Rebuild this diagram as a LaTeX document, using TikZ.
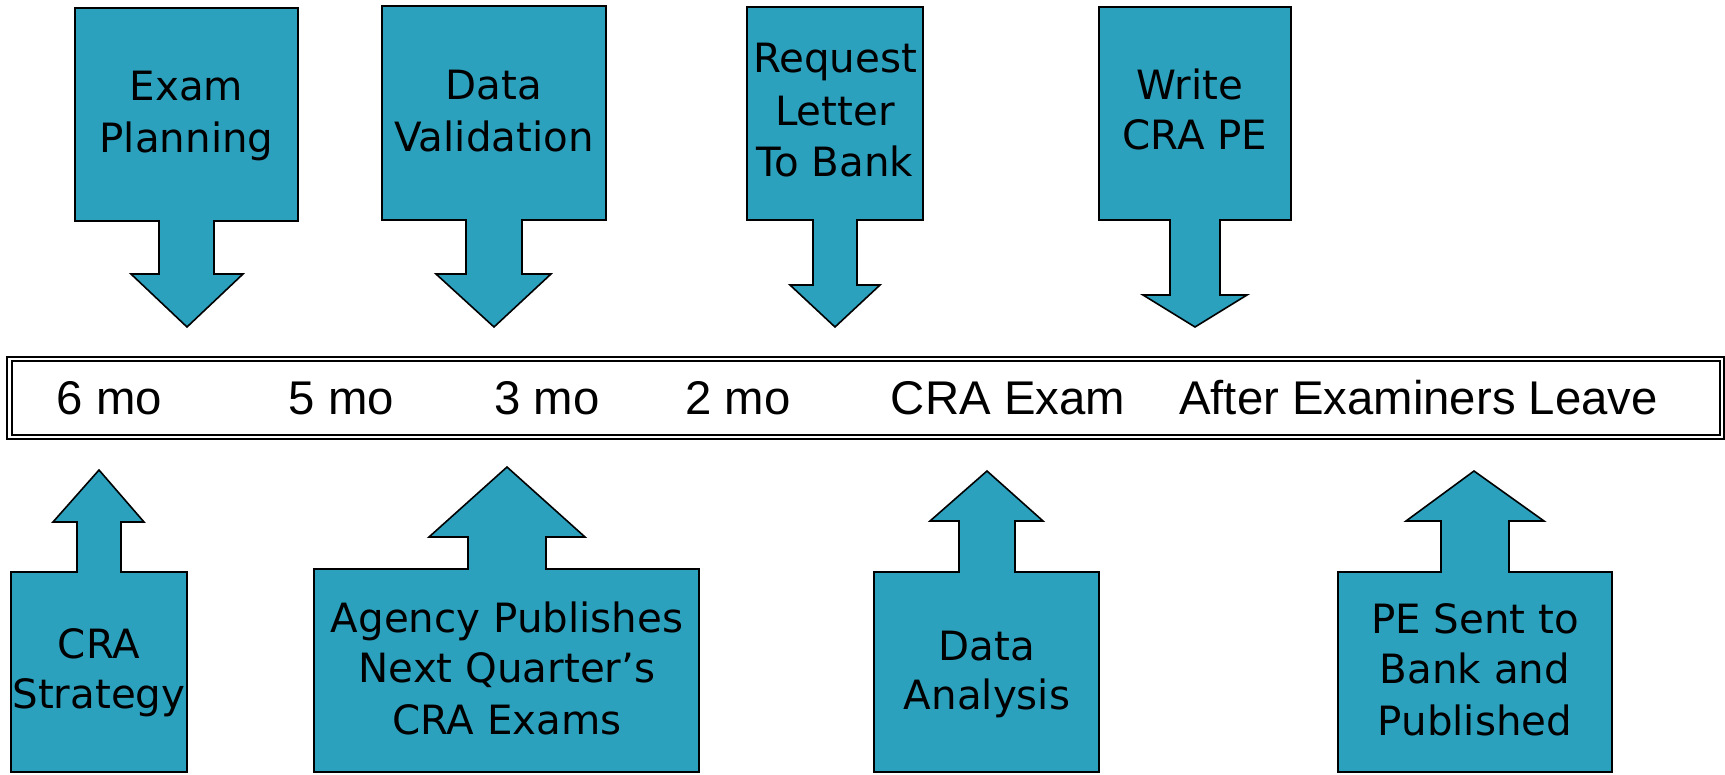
\documentclass[tikz,border=0pt]{standalone}
\usepackage{fontspec}
\setmainfont{DejaVu Sans}
\newfontfamily\tlfont{Liberation Sans}
\definecolor{tealbox}{RGB}{44,161,190}
\tikzset{
  callout/.style={draw=black, fill=tealbox, line width=1.6bp, line join=miter},
  boxtxt/.style={anchor=base, inner sep=0pt, font=\fontsize{40.5}{51}\selectfont},
  tltxt/.style={anchor=base, inner sep=0pt, font=\tlfont\fontsize{47.5}{56}\selectfont},
  tlbar/.style={draw=black, double=white, line width=2bp, double distance=2.4bp, rectangle, inner sep=0pt}
}
\begin{document}
\begin{tikzpicture}[x=1bp, y=-1bp]
\useasboundingbox (0,0) rectangle (1725,775);

% timeline bar
\node[tlbar, minimum width=1712.5bp, minimum height=78bp] (bar) at (865.75,397.75) {};
\node[tltxt] (t6)  at (109.5,414.5) {6 mo};
\node[tltxt] (t5)  at (341.5,414.5) {5 mo};
\node[tltxt] (t3)  at (547,414.5) {3 mo};
\node[tltxt] (t2)  at (738,414.5) {2 mo};
\node[tltxt] (tcra) at (1008,414.5) {CRA Exam};
\node[tltxt] (tafter) at (1418.5,414.5) {After Examiners Leave};

% top callouts (pointing down)
\draw[callout] (75,8) -- (298,8) -- (298,221) -- (214,221) -- (214,274) -- (243,274) -- (187,327) -- (131,274) -- (159,274) -- (159,221) -- (75,221) -- cycle;
\node[boxtxt] (ep1) at (186.5,100) {Exam};
\node[boxtxt] (ep2) at (186.5,152) {Planning};

\draw[callout] (382,6) -- (606,6) -- (606,220) -- (522,220) -- (522,274) -- (551,274) -- (494,327) -- (436,274) -- (466,274) -- (466,220) -- (382,220) -- cycle;
\node[boxtxt] (dv1) at (494,99) {Data};
\node[boxtxt] (dv2) at (494,151) {Validation};

\draw[callout] (747,7) -- (923,7) -- (923,220) -- (857,220) -- (857,285) -- (880,285) -- (835,327) -- (790,285) -- (813,285) -- (813,220) -- (747,220) -- cycle;
\node[boxtxt] (rl1) at (835,73) {Request};
\node[boxtxt] (rl2) at (835,125) {Letter};
\node[boxtxt] (rl3) at (835,176) {To Bank};

\draw[callout] (1099,7) -- (1291,7) -- (1291,220) -- (1220,220) -- (1220,295) -- (1247,295) -- (1195,327) -- (1143,295) -- (1170,295) -- (1170,220) -- (1099,220) -- cycle;
\node[boxtxt] (wc1) at (1190,99) {Write};
\node[boxtxt] (wc2) at (1195,149) {CRA PE};

% bottom callouts (pointing up)
\draw[callout] (11,772) -- (187,772) -- (187,572) -- (121,572) -- (121,522) -- (144,522) -- (99,470) -- (53,522) -- (77,522) -- (77,572) -- (11,572) -- cycle;
\node[boxtxt] (cs1) at (99,658) {CRA};
\node[boxtxt] (cs2) at (99,708) {Strategy};

\draw[callout] (314,772) -- (699,772) -- (699,569) -- (546,569) -- (546,537) -- (585,537) -- (507,467) -- (429,537) -- (468,537) -- (468,569) -- (314,569) -- cycle;
\node[boxtxt] (ap1) at (507,632) {Agency Publishes};
\node[boxtxt] (ap2) at (507,682) {Next Quarter’s};
\node[boxtxt] (ap3) at (507,734) {CRA Exams};

\draw[callout] (874,772) -- (1099,772) -- (1099,572) -- (1015,572) -- (1015,521) -- (1043,521) -- (987,471) -- (930,521) -- (959,521) -- (959,572) -- (874,572) -- cycle;
\node[boxtxt] (da1) at (987,660) {Data};
\node[boxtxt] (da2) at (987,709) {Analysis};

\draw[callout] (1338,772) -- (1612,772) -- (1612,572) -- (1509,572) -- (1509,521) -- (1544,521) -- (1474,471) -- (1406,521) -- (1441,521) -- (1441,572) -- (1338,572) -- cycle;
\node[boxtxt] (pe1) at (1475,633) {PE Sent to};
\node[boxtxt] (pe2) at (1475,683) {Bank and};
\node[boxtxt] (pe3) at (1475,735) {Published};
\end{tikzpicture}
\end{document}
